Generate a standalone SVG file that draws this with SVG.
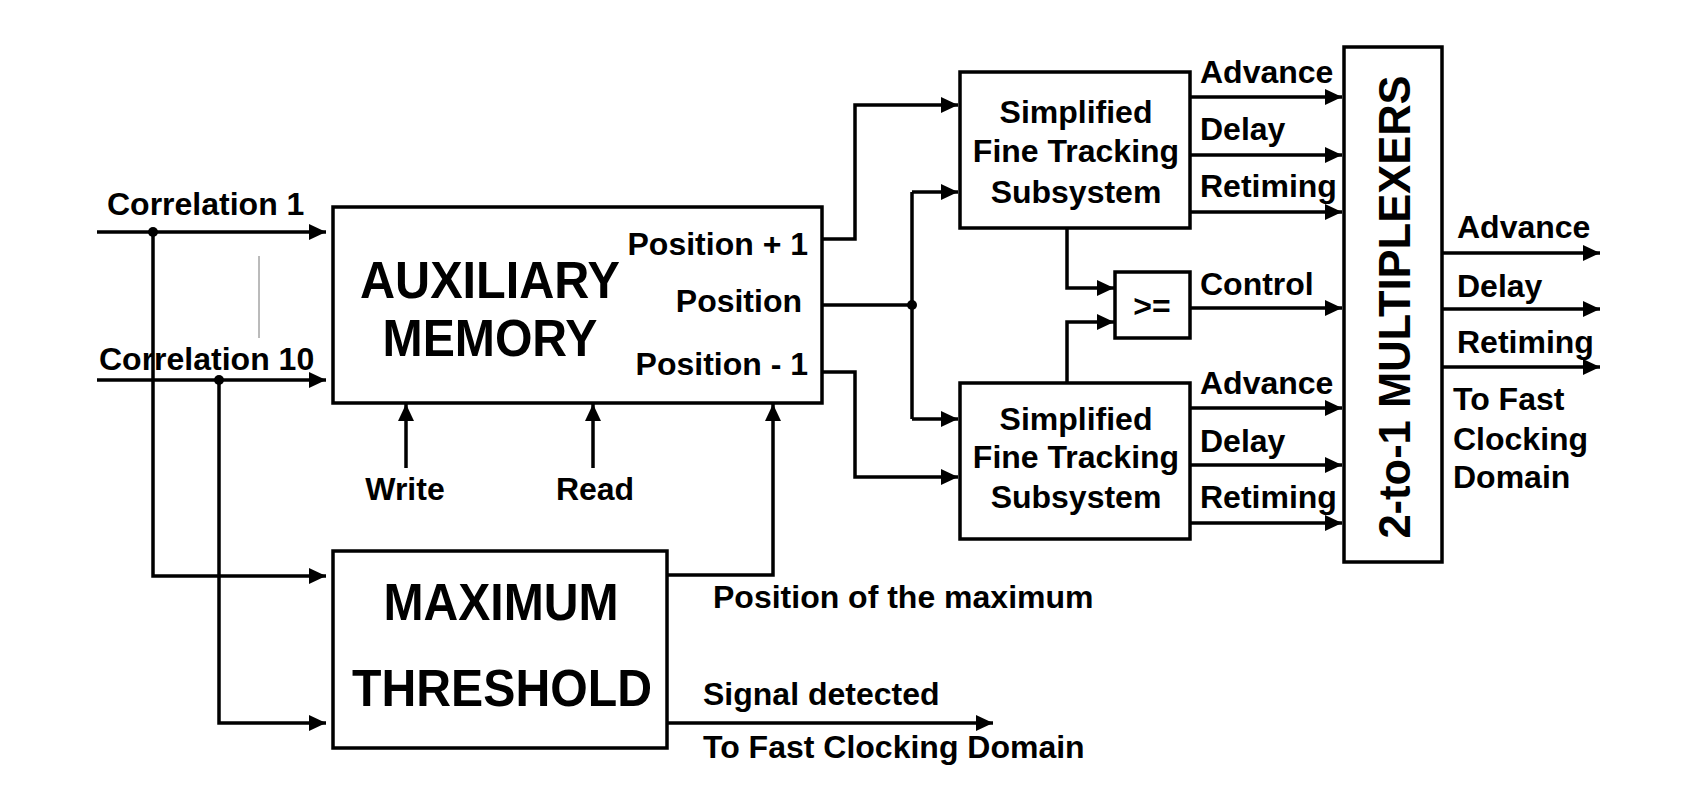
<svg xmlns="http://www.w3.org/2000/svg" width="1687" height="809" viewBox="0 0 1687 809">
<style>
.box{fill:#fff;stroke:#000;stroke-width:3.5}
.ln{fill:none;stroke:#000;stroke-width:3.5}
.ar{fill:none;stroke:#000;stroke-width:3.5;marker-end:url(#ah)}
.t{font-family:"Liberation Sans",Arial,Helvetica,sans-serif;font-weight:bold;font-size:32px;fill:#000}
.big{font-family:"Liberation Sans",Arial,Helvetica,sans-serif;font-weight:bold;font-size:52px;fill:#000}
.c{text-anchor:middle}
.e{text-anchor:end}
</style>
<defs>
<marker id="ah" markerUnits="userSpaceOnUse" markerWidth="18" markerHeight="18" refX="17" refY="9" orient="auto">
<path d="M0,1 L17,9 L0,17 z" fill="#000"/>
</marker>
</defs>
<rect width="1687" height="809" fill="#fff"/>
<g id="connectors">
<path class="ar" d="M97,232 H326"/>
<path class="ar" d="M97,380 H326"/>
<path class="ar" d="M153,232 V576 H326"/>
<path class="ar" d="M219,380 V723 H326"/>
<circle cx="153" cy="232" r="5"/>
<circle cx="219" cy="380" r="5"/>
<path class="ar" d="M406,468 V404"/>
<path class="ar" d="M593,468 V404"/>
<path class="ar" d="M667,575 H773 V404"/>
<path class="ar" d="M667,723 H993"/>
<path class="ar" d="M822,239 H855 V105 H958"/>
<path class="ln" d="M822,305 H912"/>
<path class="ln" d="M912,192 V419"/>
<path class="ar" d="M912,192 H958"/>
<path class="ar" d="M912,419 H958"/>
<circle cx="912" cy="305" r="5"/>
<path class="ar" d="M822,372 H855 V477 H958"/>
<path class="ar" d="M1190,97 H1342"/>
<path class="ar" d="M1190,155 H1342"/>
<path class="ar" d="M1190,212 H1342"/>
<path class="ar" d="M1190,408 H1342"/>
<path class="ar" d="M1190,465 H1342"/>
<path class="ar" d="M1190,523 H1342"/>
<path class="ar" d="M1067,228 V288 H1114"/>
<path class="ar" d="M1067,383 V322 H1114"/>
<path class="ar" d="M1190,308 H1342"/>
<path class="ar" d="M1442,253 H1600"/>
<path class="ar" d="M1442,309 H1600"/>
<path class="ar" d="M1442,367 H1600"/>
<line x1="259" y1="256" x2="259" y2="338" stroke="#777" stroke-width="1"/>
</g>
<g id="labels">
<text class="t" x="107" y="215">Correlation 1</text>
<text class="t" x="99" y="370">Correlation 10</text>
<text class="t c" x="405" y="500">Write</text>
<text class="t c" x="595" y="500">Read</text>
<text class="t" x="713" y="608">Position of the maximum</text>
<text class="t" x="703" y="705">Signal detected</text>
<text class="t" x="703" y="758">To Fast Clocking Domain</text>
<text class="t" x="1200" y="83">Advance</text>
<text class="t" x="1200" y="140">Delay</text>
<text class="t" x="1200" y="197">Retiming</text>
<text class="t" x="1200" y="295">Control</text>
<text class="t" x="1200" y="394">Advance</text>
<text class="t" x="1200" y="452">Delay</text>
<text class="t" x="1200" y="508">Retiming</text>
<text class="t" x="1457" y="238">Advance</text>
<text class="t" x="1457" y="297">Delay</text>
<text class="t" x="1457" y="353">Retiming</text>
<text class="t" x="1453" y="410">To Fast</text>
<text class="t" x="1453" y="450">Clocking</text>
<text class="t" x="1453" y="488">Domain</text>
</g>
<g id="aux">
<rect class="box" x="333" y="207" width="489" height="196"/>
<text class="big c" x="490" y="298" textLength="260" lengthAdjust="spacingAndGlyphs">AUXILIARY</text>
<text class="big c" x="490" y="356" textLength="215" lengthAdjust="spacingAndGlyphs">MEMORY</text>
<text class="t e" x="808" y="255">Position + 1</text>
<text class="t e" x="802" y="312">Position</text>
<text class="t e" x="808" y="375">Position - 1</text>
</g>
<g id="maxthr">
<rect class="box" x="333" y="551" width="334" height="197"/>
<text class="big c" x="501" y="620" textLength="235" lengthAdjust="spacingAndGlyphs">MAXIMUM</text>
<text class="big c" x="502" y="706" textLength="300" lengthAdjust="spacingAndGlyphs">THRESHOLD</text>
</g>
<g id="sfts1">
<rect class="box" x="960" y="72" width="230" height="156"/>
<text class="t c" x="1076" y="123">Simplified</text>
<text class="t c" x="1076" y="162">Fine Tracking</text>
<text class="t c" x="1076" y="203">Subsystem</text>
</g>
<g id="sfts2">
<rect class="box" x="960" y="383" width="230" height="156"/>
<text class="t c" x="1076" y="430">Simplified</text>
<text class="t c" x="1076" y="468">Fine Tracking</text>
<text class="t c" x="1076" y="508">Subsystem</text>
</g>
<g id="cmp">
<rect class="box" x="1115" y="272" width="75" height="66"/>
<text class="t c" x="1152" y="317">&gt;=</text>
</g>
<g id="mux">
<rect class="box" x="1344" y="47" width="98" height="515"/>
<text class="t c" style="font-size:43.5px" transform="translate(1410,307) rotate(-90)">2-to-1 MULTIPLEXERS</text>
</g>
</svg>
